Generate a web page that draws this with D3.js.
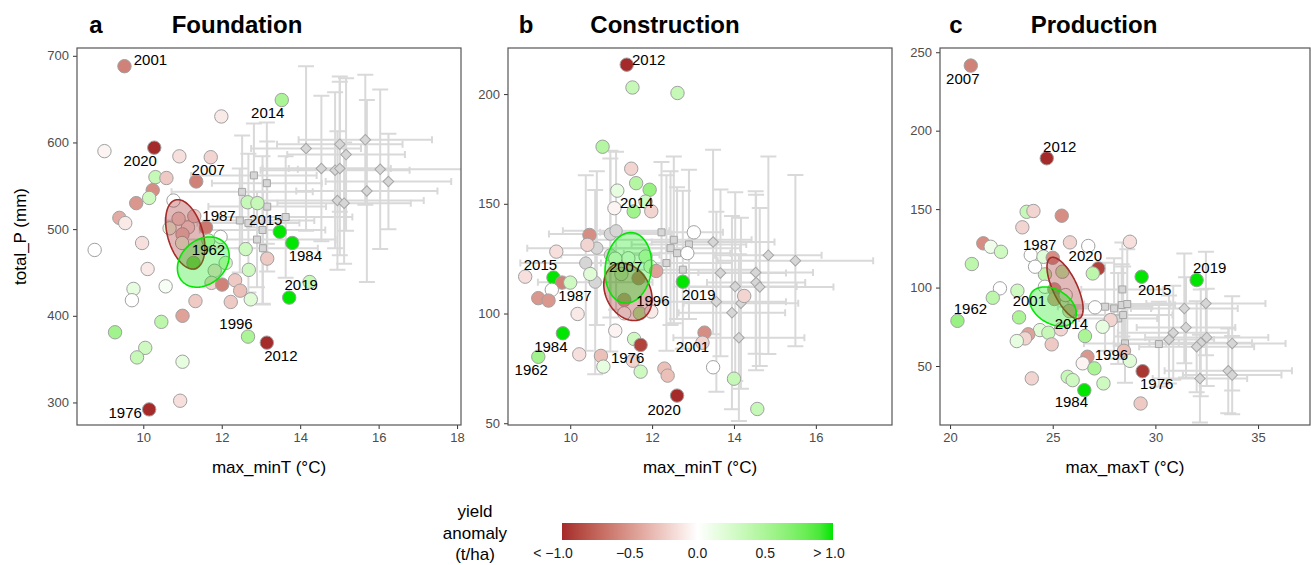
<!DOCTYPE html>
<html>
<head>
<meta charset="utf-8">
<script src="https://cdn.jsdelivr.net/npm/d3@7"></script>
<style>
  body { margin: 0; background: #fff; }
  svg { font-family: "Liberation Sans", Arial, sans-serif; }
</style>
</head>
<body>
<svg id="chart" width="1311" height="565"></svg>
<script>
// observed years: [x, y, yield anomaly (t/ha), year label or null]
var foundationPoints = [
  [9.52, 688, -0.6, 2001], [11.99, 630, -0.1], [9.01, 590, -0.05], [10.28, 594, -1.0, 2020],
  [10.92, 584, -0.15], [11.72, 583, -0.2], [10.31, 560, 0.35], [10.59, 559, -0.25],
  [11.35, 555, -0.6, 2007], [10.24, 545, -0.55], [10.15, 536, 0.3], [9.82, 530, -0.5],
  [10.77, 533, 0], [9.39, 513, -0.4], [9.54, 507, -0.1], [11.60, 502, -0.65, 1987],
  [10.67, 501, 0.15], [11.14, 502, -0.15], [10.9, 512, -0.2], [11.3, 515, -0.25],
  [11.0, 494, -0.3], [10.99, 484, 0.15], [11.66, 487, 0.3], [11.97, 491, 0],
  [9.97, 484, -0.15], [11.28, 461, 0.7, 1962], [12.61, 477, 0.3], [13.16, 466, -0.25],
  [12.10, 461, 0.25], [10.11, 454, -0.1], [11.82, 452, -0.15], [12.69, 453, 0.3],
  [11.74, 438, -0.2], [12.01, 436, -0.6], [12.34, 441, -0.25], [12.47, 429, -0.3],
  [12.74, 419, 0.2], [12.23, 416, -0.25], [11.33, 417, -0.25], [10.57, 434, 0.05],
  [9.75, 431, 0.15], [9.71, 418, 0], [11.0, 400, -0.45], [10.46, 393, 0.4],
  [13.48, 497, 1.0, 2015], [13.80, 484, 1.0, 1984], [13.72, 421, 1.0, 2019], [12.66, 531, 0.35],
  [12.91, 530, 0.35], [8.76, 476, 0], [9.28, 381, 0.55], [10.05, 363, 0.3],
  [9.84, 352, 0.35], [11.0, 347, 0.15], [10.94, 302, -0.15], [10.15, 292, -1.0, 1976],
  [12.67, 376, 0.5, 1996], [13.15, 369, -1.0, 2012], [14.24, 439, 0.35], [13.53, 649, 0.5, 2014]
];
var constructionPoints = [
  [11.38, 213.4, -1.0, 2012], [11.52, 203, 0.35], [12.62, 200.5, 0.35], [10.79, 176, 0.45],
  [11.49, 166, -0.2], [11.61, 159.4, 0.45], [11.94, 156.4, 0.6], [11.15, 156, 0.15],
  [11.08, 148, -0.05], [11.84, 151, 0.3], [11.55, 146.5, 0.55, 2014], [11.98, 146.6, -0.2],
  [10.47, 135.8, -0.55], [13.02, 137, 0], [10.42, 131.3, -0.2], [9.66, 128.2, -0.15],
  [12.86, 127.5, 0], [11.42, 125.2, 0.05], [11.84, 126, 0.25], [11.96, 121.4, 0.2],
  [12.10, 119.4, -0.45], [8.9, 116.8, -0.15], [9.59, 116.4, 1.0, 2015], [9.80, 114.1, -0.6, 1987],
  [10.0, 114.1, 0.3], [10.49, 118, 0.2], [11.1, 125, 0.1], [11.25, 118, 0.2],
  [11.67, 116.1, -0.55, 2007], [9.55, 110.8, 0], [9.22, 107, -0.5], [9.47, 105.9, -0.5],
  [11.32, 106.2, -0.45], [11.32, 100.1, 0], [11.70, 100.1, 0.5, 1996], [11.98, 100.9, -0.1],
  [10.18, 99.8, -0.1], [12.75, 114.5, 1.0, 2019], [9.82, 91, 1.0, 1984], [11.1, 92.2, -0.05],
  [11.56, 88.4, 0.3], [11.72, 85.7, -0.9, 1976], [10.22, 81.4, -0.15], [9.22, 80.3, 0.55, 1962],
  [10.75, 80.7, -0.3], [10.81, 75.8, 0.15], [11.53, 78.5, -0.2], [11.72, 73.5, 0.3],
  [12.30, 74.9, -0.3], [12.38, 71.7, -0.3], [12.61, 62.6, -1.0, 2020], [13.28, 91.3, -0.55, 2001],
  [13.23, 86.7, -0.2], [13.49, 75.5, 0], [14.0, 70.3, 0.35], [14.57, 56.5, 0.35],
  [14.25, 108, -0.2]
];
var productionPoints = [
  [21.01, 241.5, -0.6, 2007], [24.71, 182.4, -1.0, 2012], [23.73, 148.3, 0.35], [24.06, 148.8, -0.2],
  [25.44, 145.8, -0.55], [23.52, 138.4, -0.2], [21.62, 128.2, -0.55], [21.98, 126, 0.1],
  [22.48, 122.8, 0.3], [21.06, 115, 0.4], [25.84, 128.8, -0.2], [26.73, 126.5, 0],
  [23.93, 120.7, 0], [24.55, 119.6, 0.2], [25.0, 119, -0.55, 1987], [27.22, 112.2, -0.9, 2020],
  [26.95, 109, 0.4], [25.47, 110.1, 0.4], [24.62, 108.4, 0.4], [24.14, 113.3, 0],
  [22.43, 99.5, 0], [23.28, 98, 0.3], [22.08, 93.5, 0.4], [24.62, 100.5, 0],
  [25.08, 98.8, -0.5, 2001], [25.08, 92.7, -0.45], [25.63, 95.2, 0], [25.81, 85, -0.25, 2014],
  [27.06, 87.4, 0], [23.36, 81, 0.5], [20.36, 78.8, 0.6, 1962], [27.82, 79.3, -0.2],
  [27.43, 75, 0.15], [24.38, 72.9, 0.2], [24.79, 71.2, 0.35], [25.4, 73.4, -0.2],
  [23.81, 70.2, -0.45], [23.65, 67.6, -0.2], [23.25, 65.9, 0.15], [26.57, 69.1, 0.5],
  [24.95, 63.8, -0.25], [26.69, 55.9, -0.5, 1996], [26.46, 51.7, -0.05], [27.03, 48.5, 0.5],
  [23.98, 42.1, -0.2], [25.73, 43.1, 0.35], [25.97, 41, 0.3], [27.47, 38.9, 0.3],
  [26.54, 34.6, 1.0, 1984], [28.76, 129.2, -0.15], [29.33, 106.9, 1.0, 2015], [32.01, 104.8, 1.0, 2019],
  [28.47, 59.7, -0.3], [28.76, 53.3, 0.2], [29.38, 46.7, -0.95, 1976], [29.28, 26.1, -0.25]
];

// projections: [x, y, x error, y error]
var foundationCircles = [];
var foundationSquares = [
  [12.82, 562, 1.6, 60], [13.15, 553, 1.4, 70], [12.52, 543, 1.8, 65], [13.16, 526, 1.5, 75],
  [12.46, 510, 1.9, 60], [12.68, 507, 1.3, 80], [13.63, 514, 1.7, 70], [13.04, 499, 1.6, 85],
  [13.05, 478, 1.4, 65], [12.9, 488, 2.0, 55]
];
var foundationDiamonds = [
  [14.15, 593, 1.4, 95], [15.01, 598, 1.6, 78], [15.17, 586, 1.5, 88], [15.66, 603, 1.7, 75],
  [14.54, 570, 1.5, 84], [14.89, 568, 1.9, 90], [15.01, 570, 1.3, 100], [16.04, 569, 2.1, 92],
  [16.25, 555, 1.6, 55], [15.70, 544, 1.8, 105], [14.95, 533, 2.2, 80], [15.12, 530, 1.7, 70]
];
var constructionCircles = [
  [10.98, 136.2, 1.5, 38], [11.12, 137.7, 1.3, 36], [10.38, 123.0, 1.6, 40],
  [10.61, 114.3, 1.4, 42], [10.65, 129.8, 1.7, 35], [10.98, 126.7, 1.2, 44]
];
var constructionSquares = [
  [12.23, 137.0, 1.5, 32], [12.45, 129.8, 1.7, 35], [12.61, 127.5, 1.3, 30], [12.53, 133.6, 1.9, 38],
  [12.9, 131.5, 1.4, 34], [12.35, 123.0, 1.6, 40], [12.75, 120.0, 1.8, 36]
];
var constructionDiamonds = [
  [13.49, 132.6, 1.5, 42], [14.84, 126.6, 1.3, 45], [15.50, 124.1, 1.9, 39], [13.67, 118.5, 1.6, 38],
  [14.53, 118.7, 1.4, 37], [14.54, 114.1, 1.2, 40], [14.63, 112.1, 1.8, 36], [14.03, 112.3, 1.5, 43],
  [13.57, 105.4, 1.7, 41], [14.17, 104.7, 1.4, 39], [13.95, 100.4, 1.3, 44], [14.12, 89.0, 1.6, 38]
];
var productionCircles = [];
var productionSquares = [
  [28.39, 98.8, 2.0, 30], [27.55, 87.8, 2.3, 28], [27.99, 86.7, 1.8, 32], [28.36, 88.9, 2.6, 26],
  [28.63, 89.5, 2.1, 35], [28.19, 80.3, 1.9, 29], [28.43, 82.5, 2.4, 31], [30.17, 64.0, 2.2, 27],
  [28.52, 64.4, 2.0, 25]
];
var productionDiamonds = [
  [31.41, 86.7, 2.6, 35], [32.46, 89.9, 2.9, 33], [31.49, 74.6, 2.4, 32], [30.87, 71.2, 2.7, 30],
  [30.66, 66.9, 2.2, 28], [32.50, 68.2, 3.0, 31], [32.21, 64.8, 2.5, 34], [32.01, 62.3, 2.8, 29],
  [33.74, 64.4, 2.6, 30], [33.55, 46.9, 3.1, 27], [33.74, 44.2, 2.4, 25], [32.17, 42.0, 2.3, 28]
];

// ellipses of loss / gain years: [centre x, centre y, sd x, sd y, correlation]
var foundationEllipses = { loss: [11.07, 494, 0.5, 40, -0.38], gain: [11.53, 462, 0.66, 29, 0.25] };
var constructionEllipses = { loss: [11.41, 109.9, 0.59, 13.1, -0.25], gain: [11.42, 120.8, 0.57, 16.1, 0.1] };
var productionEllipses = { loss: [25.6, 99.7, 0.88, 19.6, -0.68], gain: [25.01, 87.9, 1.14, 12.5, -0.35] };

var foundationXTicks = [10, 12, 14, 16, 18], foundationYTicks = [300, 400, 500, 600, 700];
var constructionXTicks = [10, 12, 14, 16], constructionYTicks = [50, 100, 150, 200];
var productionXTicks = [20, 25, 30, 35], productionYTicks = [50, 100, 150, 200, 250];
var legendTicks = [-1, -0.5, 0, 0.5, 1];
var legendTickLabels = ['< \u22121.0', '\u22120.5', '0.0', '0.5', '> 1.0'];

// label placement (pixel offsets of label centre from its point)
var labelOffsets = {
  a: { 2001: [26, -6], 2020: [-14, 13], 2007: [12, -12], 1987: [13, -12], 1962: [15, -13], 2015: [-14, -12],
       1984: [13, 13], 2019: [12, -13], 1996: [-12, -13], 2012: [14, 13], 1976: [-24, 3], 2014: [-14, 13] },
  b: { 2012: [22, -5], 2014: [3, -9], 2015: [-13, -13], 1987: [13, 13], 2007: [-13, -11], 1996: [13, -13],
       2019: [16, 13], 1984: [-12, 13], 1962: [-7, 13], 1976: [-13, 13], 2001: [-12, 14], 2020: [-13, 14] },
  c: { 2007: [-8, 13], 2012: [13, -12], 1987: [-13, -13], 2020: [-13, -13], 1962: [13, -12], 2001: [-25, 11],
       2014: [2, 13], 1996: [24, -2], 1984: [-13, 12], 2015: [13, 13], 2019: [13, -12], 1976: [14, 13] }
};

var panels = [
  { key: 'a', title: 'Foundation', xLabel: 'max_minT (\u00b0C)', yLabel: 'total_P (mm)',
    points: foundationPoints, circles: foundationCircles, squares: foundationSquares, diamonds: foundationDiamonds,
    ellipses: foundationEllipses, xDomain: [8.31, 18.1], yDomain: [274, 709],
    xTicks: foundationXTicks, yTicks: foundationYTicks, left: 77, right: 461, letterX: 96, titleX: 237 },
  { key: 'b', title: 'Construction', xLabel: 'max_minT (\u00b0C)',
    points: constructionPoints, circles: constructionCircles, squares: constructionSquares, diamonds: constructionDiamonds,
    ellipses: constructionEllipses, xDomain: [8.48, 17.86], yDomain: [49.2, 221],
    xTicks: constructionXTicks, yTicks: constructionYTicks, left: 508, right: 892, letterX: 526, titleX: 665 },
  { key: 'c', title: 'Production', xLabel: 'max_maxT (\u00b0C)',
    points: productionPoints, circles: productionCircles, squares: productionSquares, diamonds: productionDiamonds,
    ellipses: productionEllipses, xDomain: [19.51, 37.53], yDomain: [12.4, 252.7],
    xTicks: productionXTicks, yTicks: productionYTicks, left: 940, right: 1310, letterX: 956, titleX: 1094 }
];

var plotTop = 48, plotBottom = 425;
var barColor = '#d9d9d9', greyFill = '#d6d6d6', greyStroke = '#a6a6a6', pointStroke = '#a0a0a0';

var color = d3.scaleLinear()
  .domain([-1, 0, 1])
  .range(['#a52a2a', '#ffffff', '#00e600'])
  .interpolate(d3.interpolateLab)
  .clamp(true);

var svg = d3.select('#chart');
var defs = svg.append('defs');

panels.forEach(function(p) {
  var x = d3.scaleLinear().domain(p.xDomain).range([p.left, p.right]);
  var y = d3.scaleLinear().domain(p.yDomain).range([plotBottom, plotTop]);

  defs.append('clipPath').attr('id', 'clip-' + p.key)
    .append('rect').attr('x', p.left).attr('y', plotTop)
    .attr('width', p.right - p.left).attr('height', plotBottom - plotTop);

  var g = svg.append('g');

  // axes
  var xAxis = g.append('g').attr('transform', 'translate(0,' + plotBottom + ')')
    .call(d3.axisBottom(x).tickValues(p.xTicks).tickSize(4).tickPadding(4).tickFormat(d3.format('d')));
  var yAxis = g.append('g').attr('transform', 'translate(' + p.left + ',0)')
    .call(d3.axisLeft(y).tickValues(p.yTicks).tickSize(4).tickPadding(4).tickFormat(d3.format('d')));
  [xAxis, yAxis].forEach(function(ax) {
    ax.select('.domain').remove();
    ax.selectAll('line').attr('stroke', '#333');
    ax.selectAll('text').attr('fill', '#4d4d4d').style('font-size', '13px')
      .style('font-family', '"Liberation Sans", Arial, sans-serif');
  });

  var plot = g.append('g').attr('clip-path', 'url(#clip-' + p.key + ')');

  // error bars of projections
  var proj = [];
  p.circles.forEach(function(d) { proj.push({ d: d, shape: 'circle' }); });
  p.squares.forEach(function(d) { proj.push({ d: d, shape: 'square' }); });
  p.diamonds.forEach(function(d) { proj.push({ d: d, shape: 'diamond' }); });

  var bars = plot.append('g').attr('stroke', barColor).attr('stroke-width', 2).attr('fill', 'none');
  proj.forEach(function(o) {
    var d = o.d, cx = x(d[0]), cy = y(d[1]);
    var x0 = x(d[0] - d[2]), x1 = x(d[0] + d[2]);
    var y0 = y(d[1] - d[3]), y1 = y(d[1] + d[3]);
    bars.append('path').attr('d',
      'M' + x0 + ',' + cy + 'H' + x1 +
      'M' + x0 + ',' + (cy - 3.5) + 'V' + (cy + 3.5) +
      'M' + x1 + ',' + (cy - 3.5) + 'V' + (cy + 3.5) +
      'M' + cx + ',' + y0 + 'V' + y1 +
      'M' + (cx - 8) + ',' + y0 + 'H' + (cx + 8) +
      'M' + (cx - 8) + ',' + y1 + 'H' + (cx + 8));
  });

  // projection markers (diamond = square turned 45 degrees)
  var size = { circle: 120, square: 49, diamond: 56 };
  plot.append('g').selectAll('path').data(proj).join('path')
    .attr('transform', function(o) {
      return 'translate(' + x(o.d[0]) + ',' + y(o.d[1]) + ')' + (o.shape === 'diamond' ? ' rotate(45)' : '');
    })
    .attr('d', function(o) { return d3.symbol(o.shape === 'circle' ? d3.symbolCircle : d3.symbolSquare, size[o.shape])(); })
    .attr('fill', greyFill).attr('stroke', greyStroke).attr('stroke-width', 1);

  // observed years
  plot.append('g').selectAll('circle').data(p.points).join('circle')
    .attr('cx', function(d) { return x(d[0]); })
    .attr('cy', function(d) { return y(d[1]); })
    .attr('r', 6.7)
    .attr('fill', function(d) { return color(d[2]); })
    .attr('stroke', pointStroke).attr('stroke-width', 1);

  // ellipses
  var line = d3.line().x(function(t) { return t[0]; }).y(function(t) { return t[1]; }).curve(d3.curveLinearClosed);
  [['loss', '#a52a2a', 0.33], ['gain', '#00e600', 0.3]].forEach(function(e) {
    var q = p.ellipses[e[0]];
    var pts = d3.range(0, 2 * Math.PI, Math.PI / 60).map(function(t) {
      var dx = q[2] * Math.cos(t);
      var dy = q[3] * (q[4] * Math.cos(t) + Math.sqrt(1 - q[4] * q[4]) * Math.sin(t));
      return [x(q[0] + dx), y(q[1] + dy)];
    });
    plot.append('path').attr('d', line(pts))
      .attr('fill', e[1]).attr('fill-opacity', e[2])
      .attr('stroke', e[1]).attr('stroke-width', 1.6);
  });

  // year labels
  var offs = labelOffsets[p.key];
  g.append('g').selectAll('text').data(p.points.filter(function(d) { return d[3]; })).join('text')
    .attr('x', function(d) { return x(d[0]) + offs[d[3]][0]; })
    .attr('y', function(d) { return y(d[1]) + offs[d[3]][1]; })
    .attr('text-anchor', 'middle').attr('dy', '0.35em')
    .style('font-size', '15px').attr('fill', '#000')
    .text(function(d) { return d[3]; });

  // frame
  g.append('rect').attr('x', p.left).attr('y', plotTop)
    .attr('width', p.right - p.left).attr('height', plotBottom - plotTop)
    .attr('fill', 'none').attr('stroke', '#555').attr('stroke-width', 1.2);

  // titles
  g.append('text').attr('x', p.letterX).attr('y', 33).attr('text-anchor', 'middle')
    .style('font-size', '24px').style('font-weight', 'bold').text(p.key);
  g.append('text').attr('x', p.titleX).attr('y', 33).attr('text-anchor', 'middle')
    .style('font-size', '24px').style('font-weight', 'bold').text(p.title);

  g.append('text').attr('x', (p.left + p.right) / 2).attr('y', 473).attr('text-anchor', 'middle')
    .style('font-size', '17px').text(p.xLabel);
  if (p.yLabel) {
    g.append('text').attr('transform', 'translate(26,' + ((plotTop + plotBottom) / 2) + ') rotate(-90)')
      .attr('text-anchor', 'middle').style('font-size', '17px').text(p.yLabel);
  }
});

// colour legend
var lx = d3.scaleLinear().domain([-1, 1]).range([562, 833]);
var grad = defs.append('linearGradient').attr('id', 'yieldGrad');
d3.range(0, 1.0001, 0.05).forEach(function(t) {
  grad.append('stop').attr('offset', t).attr('stop-color', color(-1 + 2 * t));
});
svg.append('rect').attr('x', lx(-1)).attr('y', 523).attr('width', lx(1) - lx(-1)).attr('height', 17)
  .attr('fill', 'url(#yieldGrad)');
var lg = svg.append('g').style('font-size', '14px').attr('fill', '#1a1a1a');
lg.selectAll('text').data(legendTicks).join('text')
  .attr('x', function(d, i) { return lx(d) + (i === 0 ? -9 : i === legendTicks.length - 1 ? -4 : 0); })
  .attr('y', 558).attr('text-anchor', 'middle')
  .text(function(d, i) { return legendTickLabels[i]; });
var lt = svg.append('g').style('font-size', '17px').attr('text-anchor', 'middle');
['yield', 'anomaly', '(t/ha)'].forEach(function(s, i) {
  lt.append('text').attr('x', 475).attr('y', 517 + i * 21.5).text(s);
});
</script>
</body>
</html>
